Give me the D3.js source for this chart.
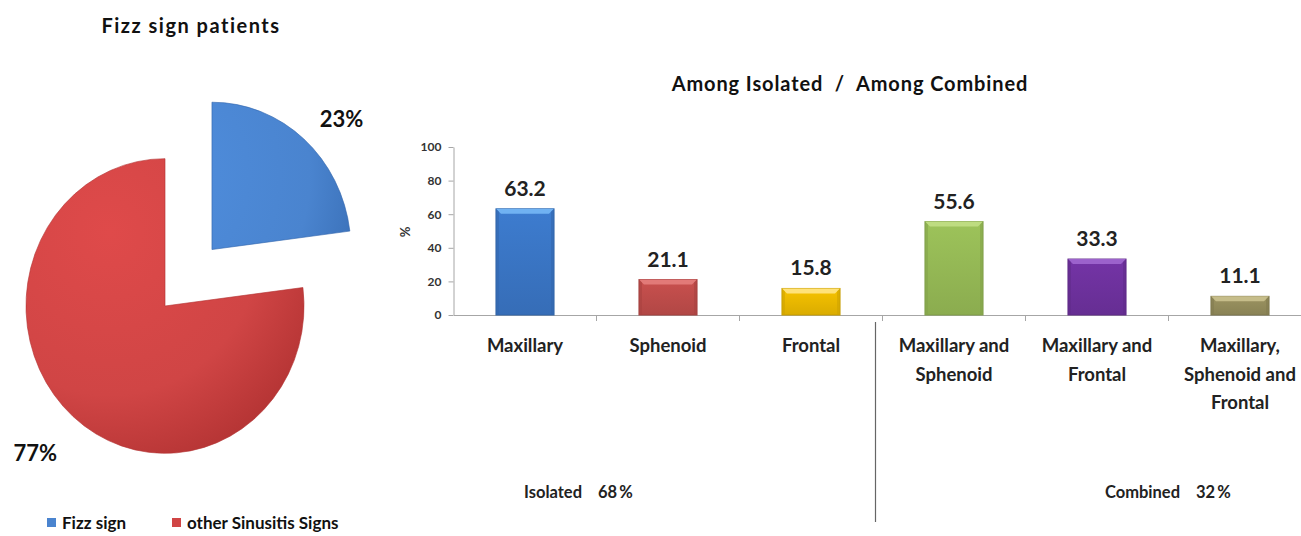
<!DOCTYPE html>
<html>
<head>
<meta charset="utf-8">
<script src="https://cdn.jsdelivr.net/npm/d3@7"></script>
<style>
  html, body { margin: 0; padding: 0; background: #fff; }
  svg { display: block; font-family: Lato, "Open Sans", sans-serif; font-weight: bold; }
</style>
</head>
<body>
<svg id="chart" width="1301" height="536"></svg>
<script>
// ---------- data ----------
const pieLabels = ["Fizz sign", "other Sinusitis Signs"];
const pieValues = [23, 77];
const pieColors = ["#4a84cf", "#d04545"];
const pieColorsDark = ["#3367ad", "#b33333"];

const barCategories = ["Maxillary", "Sphenoid", "Frontal",
  "Maxillary and\nSphenoid", "Maxillary and\nFrontal", "Maxillary,\nSphenoid and\nFrontal"];
const barValues = [63.2, 21.1, 15.8, 55.6, 33.3, 11.1];
const barColors = ["#3d7ccf", "#c9504e", "#f7c300", "#9dc35a", "#7434a6", "#9b9360"];
const barTopColors = ["#70b2f2", "#e27a78", "#ffe27a", "#bedc80", "#9c62cc", "#c6bd8a"];

const yTicks = [0, 20, 40, 60, 80, 100];
const groupLabels = ["Isolated", "Combined"];
const groupPercents = [68, 32];

// ---------- setup ----------
const svg = d3.select("#chart");
const defs = svg.append("defs");

// ---------- pie ----------
svg.append("text").attr("x", 191).attr("y", 33).attr("text-anchor", "middle")
  .attr("font-size", 20).attr("letter-spacing", 1.5).attr("fill", "#111").text("Fizz sign patients");

const pieCx = 165, pieCy = 306, pieR = 139, yStretch = 1.06, explode = 71;
const pie = d3.pie().sort(null).value(d => d)(pieValues);
const arc = d3.arc().innerRadius(0).outerRadius(pieR);

pieColors.forEach((c, i) => {
  const g = defs.append("radialGradient").attr("id", "pg" + i)
    .attr("gradientUnits", "userSpaceOnUse").attr("cx", -pieR * 0.4).attr("cy", -pieR * 0.5).attr("r", pieR * 1.7);
  g.append("stop").attr("offset", "0%").attr("stop-color", d3.color(c).brighter(0.2));
  g.append("stop").attr("offset", "65%").attr("stop-color", c);
  g.append("stop").attr("offset", "100%").attr("stop-color", pieColorsDark[i]);
});

const pieG = svg.append("g").attr("transform", `translate(${pieCx},${pieCy}) scale(1,${yStretch})`);
pieG.selectAll("path.slice").data(pie).enter().append("path")
  .attr("class", "slice")
  .attr("d", arc)
  .attr("transform", (d, i) => {
    if (i !== 0) return null;
    const m = (d.startAngle + d.endAngle) / 2;
    return `translate(${explode * Math.sin(m)},${-explode * Math.cos(m)})`;
  })
  .attr("fill", (d, i) => `url(#pg${i})`)
  .attr("stroke", (d, i) => pieColorsDark[i]).attr("stroke-width", 0.6);

// pie labels (outside end)
const labFx = [1.41, 1.41], labFy = [1.25, 1.41];
pie.forEach((d, i) => {
  const m = (d.startAngle + d.endAngle) / 2;
  const off = i === 0 ? explode : 0;
  const x = pieCx + off * Math.sin(m) + labFx[i] * pieR * Math.sin(m);
  const y = pieCy - off * Math.cos(m) * yStretch - labFy[i] * pieR * Math.cos(m);
  svg.append("text").attr("x", x).attr("y", y + 8).attr("text-anchor", "middle")
    .attr("font-size", 22).attr("fill", "#111").text(Math.round(d.data) + "%");
});

// legend
const legendX = [47, 172];
pieLabels.forEach((l, i) => {
  svg.append("rect").attr("x", legendX[i]).attr("y", 518).attr("width", 9).attr("height", 9)
    .attr("fill", pieColors[i]);
  svg.append("text").attr("x", legendX[i] + 15).attr("y", 529).attr("font-size", 17)
    .attr("fill", "#111").text(l);
});

// ---------- bars ----------
svg.append("text").attr("x", 850).attr("y", 91).attr("text-anchor", "middle")
  .attr("font-size", 20).attr("letter-spacing", 0.9).attr("fill", "#111").attr("xml:space", "preserve")
  .text("Among Isolated  /  Among Combined");

const x = d3.scaleBand().domain(barCategories).range([453.5, 1311.5])
  .paddingInner(0.594).paddingOuter(0.297);
const y = d3.scaleLinear().domain([0, 100]).range([315, 147]);

// y axis
const yAxis = svg.append("g").attr("transform", "translate(453.5,0)")
  .call(d3.axisLeft(y).tickValues(yTicks).tickSize(5).tickSizeOuter(0).tickPadding(7));
yAxis.select(".domain").attr("stroke", "#a6a6a6");
yAxis.selectAll(".tick line").attr("stroke", "#a6a6a6");
yAxis.selectAll(".tick text").attr("font-size", 12).attr("font-family", "Lato, sans-serif")
  .attr("font-weight", "bold").attr("fill", "#333");

svg.append("text").attr("transform", "translate(410,232) rotate(-90)").attr("text-anchor", "middle")
  .attr("font-size", 13).attr("fill", "#333").text("%");

// x axis
const xAxis = svg.append("g").attr("transform", "translate(0,315)")
  .call(d3.axisBottom(x).tickSize(0).tickSizeOuter(0).tickFormat(""));
xAxis.select(".domain").attr("stroke", "#a6a6a6");
const step = x.step();
svg.append("g").selectAll("line").data(barCategories.slice(1)).enter().append("line")
  .attr("x1", d => x(d) - (step - x.bandwidth()) / 2).attr("x2", d => x(d) - (step - x.bandwidth()) / 2)
  .attr("y1", 315).attr("y2", 321).attr("stroke", "#a6a6a6");

// bar gradients
barColors.forEach((c, i) => {
  const g = defs.append("linearGradient").attr("id", "bg" + i)
    .attr("x1", 0).attr("y1", 0).attr("x2", 0).attr("y2", 1);
  g.append("stop").attr("offset", "0%").attr("stop-color", c);
  g.append("stop").attr("offset", "100%").attr("stop-color", d3.color(c).darker(0.35));
});

const bars = svg.append("g");
bars.selectAll("rect.bar").data(barValues).enter().append("rect")
  .attr("class", "bar")
  .attr("x", (d, i) => x(barCategories[i]))
  .attr("y", d => y(d))
  .attr("width", x.bandwidth())
  .attr("height", d => y(0) - y(d))
  .attr("fill", (d, i) => `url(#bg${i})`)
  .attr("stroke", (d, i) => d3.color(barColors[i]).darker(0.6))
  .attr("stroke-width", 1);

// top bevel
const bev = 5;
bars.selectAll("path.bevel").data(barValues).enter().append("path")
  .attr("class", "bevel")
  .attr("d", (d, i) => {
    const x0 = x(barCategories[i]), x1 = x0 + x.bandwidth(), yt = y(d);
    return `M${x0},${yt}L${x1},${yt}L${x1 - bev},${yt + bev}L${x0 + bev},${yt + bev}Z`;
  })
  .attr("fill", (d, i) => barTopColors[i]);
bars.selectAll("path.side").data(barValues).enter().append("path")
  .attr("class", "side")
  .attr("d", (d, i) => {
    const x0 = x(barCategories[i]), x1 = x0 + x.bandwidth(), yt = y(d), yb = y(0);
    return `M${x0},${yt}L${x0 + 3},${yt + 3}L${x0 + 3},${yb}L${x0},${yb}Z` +
           `M${x1},${yt}L${x1 - 3},${yt + 3}L${x1 - 3},${yb}L${x1},${yb}Z`;
  })
  .attr("fill", (d, i) => d3.color(barColors[i]).darker(0.5)).attr("opacity", 0.6);

// value labels
svg.append("g").selectAll("text").data(barValues).enter().append("text")
  .attr("x", (d, i) => x(barCategories[i]) + x.bandwidth() / 2)
  .attr("y", d => y(d) - 13)
  .attr("text-anchor", "middle").attr("font-size", 21).attr("fill", "#222")
  .text(d => d.toFixed(1));

// category labels
const catG = svg.append("g");
barCategories.forEach(c => {
  const t = catG.append("text").attr("text-anchor", "middle").attr("font-size", 18.5).attr("fill", "#222");
  c.split("\n").forEach((line, j) => {
    t.append("tspan").attr("x", x(c) + x.bandwidth() / 2).attr("y", 352 + j * 28.5).text(line);
  });
});

// divider
svg.append("line").attr("x1", 875.5).attr("x2", 875.5).attr("y1", 322).attr("y2", 522)
  .attr("stroke", "#666").attr("stroke-width", 1.2);

// group labels
const groupLabelEnd = [582, 1180];
groupLabels.forEach((l, i) => {
  svg.append("text").attr("x", groupLabelEnd[i]).attr("y", 498).attr("text-anchor", "end")
    .attr("font-size", 16.5).attr("fill", "#222").text(l);
  svg.append("text").attr("x", groupLabelEnd[i] + 16).attr("y", 498).attr("xml:space", "preserve")
    .attr("font-size", 16.5).attr("fill", "#222").text(groupPercents[i] + "\u2009%");
});
</script>
</body>
</html>
